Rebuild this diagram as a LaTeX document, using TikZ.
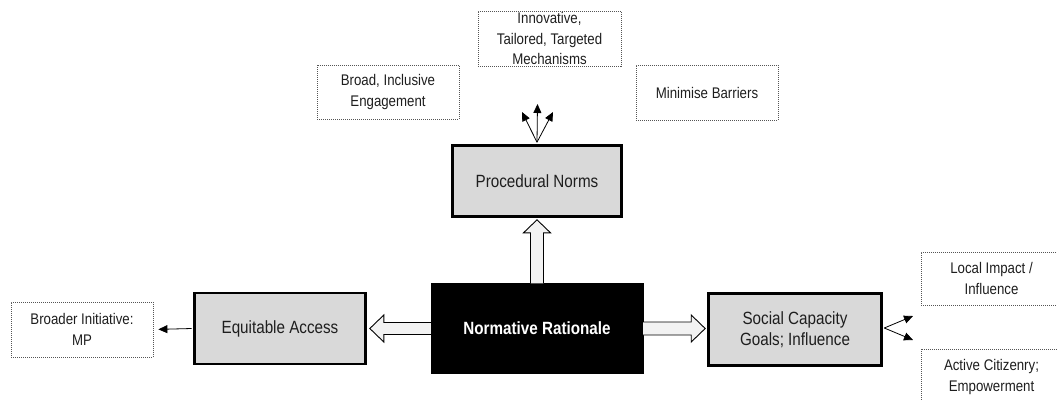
\documentclass[tikz,border=0pt]{standalone}
\usepackage{fontspec}
\setmainfont{Liberation Sans}[FakeStretch=0.86]
\usetikzlibrary{calc,arrows.meta}
\definecolor{boxgray}{HTML}{D9D9D9}
\definecolor{arrowfill}{HTML}{F2F2F2}
\definecolor{inkgray}{HTML}{1E1E1E}
\definecolor{dotgray}{HTML}{555555}
\begin{document}
\begin{tikzpicture}[x=1pt,y=-1pt,
  graybox/.style={draw=black, fill=boxgray, line width=2.6pt, align=center,
    text=inkgray, font=\fontsize{17.7}{20.5}\selectfont, inner sep=0pt},
  blackbox/.style={draw=black, fill=black, align=center, text=white,
    font=\fontsize{17.7}{20.5}\selectfont\bfseries, inner sep=0pt},
  notebox/.style={draw=dotgray, line width=0.8pt, dash pattern=on 1pt off 1pt,
    align=center, text=inkgray, font=\fontsize{15.4}{20.3}\selectfont, inner sep=0pt},
  hollow/.style={draw=black, fill=arrowfill, line width=0.9pt, line join=miter},
  thin/.style={draw=black, line width=0.8pt, -{Triangle[length=9pt,width=8pt]}}]
\clip (0,0) rectangle (1057,400);

% central node and the three main outcomes
\node[blackbox, minimum width=212pt, minimum height=90pt] (norm) at (537,328.5) {Normative Rationale};
\node[graybox, minimum width=169pt, minimum height=71pt] (proc) at (537,181) {Procedural Norms};
\node[graybox, minimum width=171pt, minimum height=71pt] (equit) at (280,328.5) {Equitable Access};
\node[graybox, minimum width=173pt, minimum height=72pt] (social) at (795,329.5) {Social Capacity\\Goals; Influence};

% dotted annotation boxes
\node[notebox, minimum width=143pt, minimum height=55pt] (innov) at (549.5,38.5) {Innovative,\\Tailored, Targeted\\Mechanisms};
\node[notebox, minimum width=142pt, minimum height=54pt] (broad) at (388,92) {Broad, Inclusive\\Engagement};
\node[notebox, minimum width=142pt, minimum height=55pt] (minim) at (707,92.5) {Minimise Barriers};
\node[notebox, minimum width=142pt, minimum height=55pt] (broader) at (82,329.5) {Broader Initiative:\\MP};
\node[notebox, minimum width=141pt, minimum height=53pt] (local) at (991.5,278.5) {Local Impact /\\Influence};
\node[notebox, minimum width=141pt, minimum height=56pt] (active) at (991.5,377) {Active Citizenry;\\Empowerment};

% block arrows out of the central node
\draw[hollow] ($(norm.north)+(-6.5,0)$) -- ($(proc.south)+(-6.5,15)$) -- ($(proc.south)+(-13.5,15)$)
  -- ($(proc.south)+(0,2)$) -- ($(proc.south)+(13.5,15)$) -- ($(proc.south)+(6.5,15)$)
  -- ($(norm.north)+(6.5,0)$);
\draw[hollow] ($(norm.west)+(0,-6)$) -- ($(equit.east |- norm.west)+(17,-6)$) -- ($(equit.east |- norm.west)+(17,-13.5)$)
  -- ($(equit.east |- norm.west)+(3,0)$) -- ($(equit.east |- norm.west)+(17,13.5)$) -- ($(equit.east |- norm.west)+(17,6)$)
  -- ($(norm.west)+(0,6)$);
\draw[hollow] ($(norm.east)+(0,-6.5)$) -- ($(social.west |- norm.east)+(-16,-6.5)$) -- ($(social.west |- norm.east)+(-16,-13.5)$)
  -- ($(social.west |- norm.east)+(-2,0)$) -- ($(social.west |- norm.east)+(-16,13.5)$) -- ($(social.west |- norm.east)+(-16,6.5)$)
  -- ($(norm.east)+(0,6.5)$);

% thin pointers from the outcome boxes
\coordinate (pl) at (522,112);
\coordinate (pm) at (537.5,104);
\coordinate (pr) at (553,112);
\draw[thin] ($(proc.north)+(0,-2)$) -- (pl);
\draw[thin] ($(proc.north)+(0,-2)$) -- (pm);
\draw[thin] ($(proc.north)+(0,-2)$) -- (pr);
\draw[thin, shorten >=5pt] ($(equit.west)+(-1.5,0)$) -- (broader.east);
\coordinate (su) at (913,316);
\coordinate (sd) at (913,340);
\draw[thin] ($(social.east)+(1.5,-1.5)$) -- (su);
\draw[thin] ($(social.east)+(1.5,-1.5)$) -- (sd);
\end{tikzpicture}
\end{document}
